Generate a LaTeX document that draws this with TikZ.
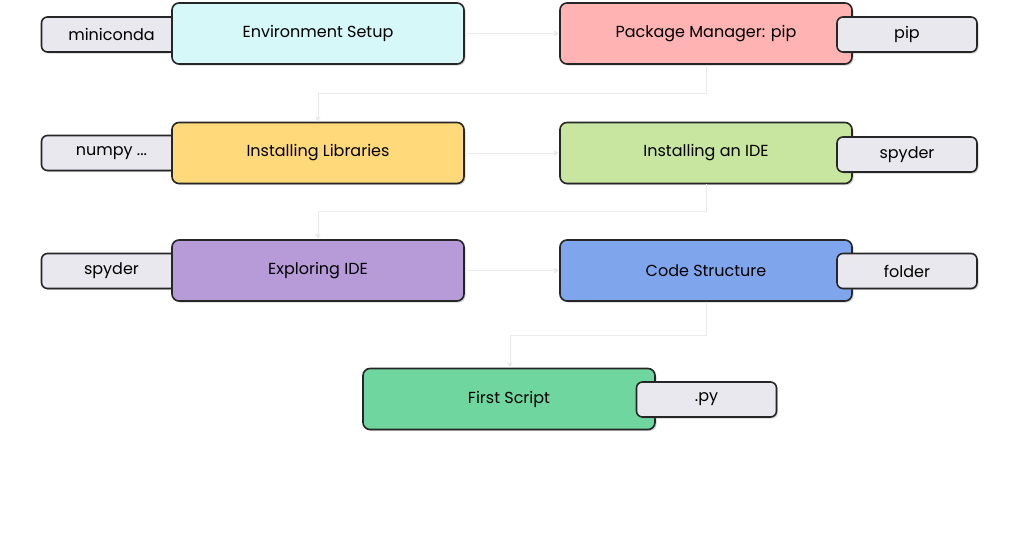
\documentclass[tikz,border=0pt]{standalone}
\usepackage{fontspec}
\setmainfont{Poppins}
\usetikzlibrary{shadows,arrows.meta}
\definecolor{cEnv}{HTML}{D6F8F8}
\definecolor{cPkg}{HTML}{FFB3B3}
\definecolor{cLib}{HTML}{FFD97A}
\definecolor{cIde}{HTML}{C8E6A0}
\definecolor{cExp}{HTML}{B79AD8}
\definecolor{cCode}{HTML}{7FA6EC}
\definecolor{cFirst}{HTML}{6FD6A0}
\definecolor{cTag}{HTML}{E8E8EE}
\begin{document}
\begin{tikzpicture}[x=1pt,y=-1pt,
  box/.style={draw=black!85,line width=1.6pt,rounded corners=7pt,minimum width=292pt,minimum height=61pt,inner sep=0pt,font=\fontsize{16}{18}\selectfont,drop shadow={shadow xshift=1.5pt,shadow yshift=-1.5pt,opacity=.35}},
  tag/.style={draw=black!85,line width=1.6pt,rounded corners=6pt,fill=cTag,minimum width=140pt,minimum height=35pt,inner sep=0pt,font=\fontsize{16}{18}\selectfont,drop shadow={shadow xshift=1.5pt,shadow yshift=-1.5pt,opacity=.35}},
  con/.style={draw=black!8,line width=1pt,-{Triangle[length=5pt,width=5pt]}}]
\useasboundingbox (0,0) rectangle (1024,538);
% connectors
\coordinate (j1) at (318,93);
\coordinate (j2) at (318,211);
\coordinate (j3) at (510,335);
% left tags
\node[tag] (t1) at (111.5,34.5) {miniconda};
\node[tag] (t3) at (111.5,153) {numpy ...};
\node[tag] (t5) at (111.5,271) {spyder};
% boxes
\node[box,fill=cEnv] (env) at (318,33.5) {Environment Setup};
\node[box,fill=cPkg] (pkg) at (706,33.5) {Package Manager: pip};
\node[box,fill=cLib] (lib) at (318,153) {Installing Libraries};
\node[box,fill=cIde] (ide) at (706,153) {Installing an IDE};
\node[box,fill=cExp] (exp) at (318,270.5) {Exploring IDE};
\node[box,fill=cCode] (code) at (706,270.5) {Code Structure};
\node[box,fill=cFirst] (first) at (509,399) {First Script};
\draw[con] (env) -- (pkg);
\draw[con] (pkg.south) |- (j1) -- (lib.north);
\draw[con] (lib) -- (ide);
\draw[con] (ide.south) |- (j2) -- (exp.north);
\draw[con] (exp) -- (code);
\draw[con] (code.south) |- (j3) -- (first.north-|j3);
% right tags
\node[tag] (t2) at (907,34.5) {pip};
\node[tag] (t4) at (907,154.5) {spyder};
\node[tag] (t6) at (907,271) {folder};
\node[tag] (t7) at (706.5,399.5) {.py};
\end{tikzpicture}
\end{document}
